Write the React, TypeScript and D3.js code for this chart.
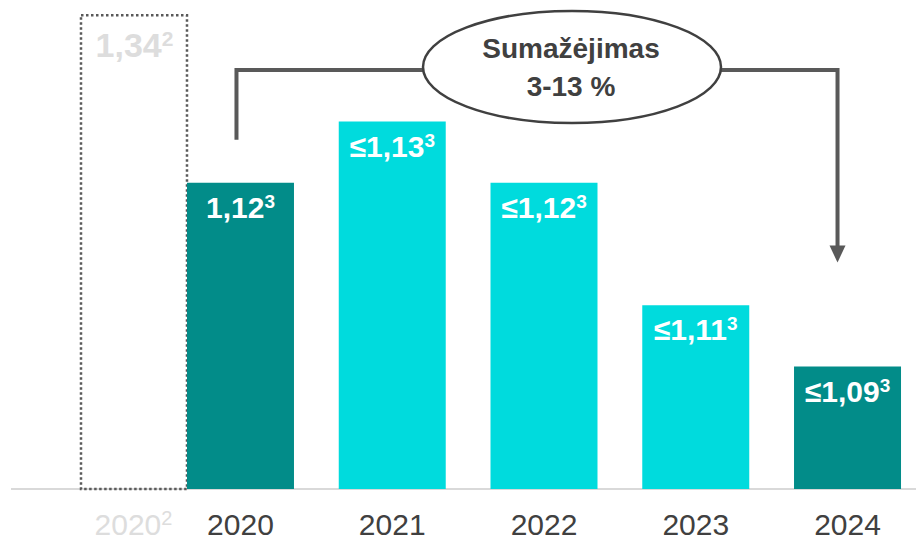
import React from "react";
import * as d3 from "d3";

// ---- data ----
const years = ["2020", "2021", "2022", "2023", "2024"];
const valueLabels = ["1,12", "≤1,13", "≤1,12", "≤1,11", "≤1,09"];
const footnotes = ["3", "3", "3", "3", "3"];
// displayed bar heights (relative units, as drawn in the source chart)
const barLevels = [5, 6, 5, 3, 2];
const highlightedYears = ["2020", "2024"];

const refYearLabel = "2020";
const refFootnote = "2";
const refValueLabel = "1,34";
const refLevel = 7.75;

const calloutLines = ["Sumažėjimas", "3-13 %"];

// ---- layout / style ----
const W = 916;
const H = 541;
const BASE = 489;
const FONT = "'Liberation Sans', Arial, Helvetica, sans-serif";
const TEAL = "#028C89";
const CYAN = "#00DBDD";
const DARK = "#404040";
const LINE = "#595959";
const LIGHT = "#DDDDDD";
const YEAR_Y = 535;

export default function App() {
  const x = d3
    .scaleBand<string>()
    .domain(years)
    .range([164.6, 923.4])
    .paddingInner(0.295)
    .paddingOuter(0.1475);
  const y = d3.scaleLinear().domain([0, 8]).range([BASE, -1]);
  const bw = x.bandwidth();

  const refX = (x(refYearLabel) as number) - bw;
  const refTop = y(refLevel);

  const leftX = (x("2020") as number) + bw / 2 - 4;
  const rightX = (x("2024") as number) + bw / 2 - 10;
  const topY = 70;
  const leftBottom = y(barLevels[0]) - 43;
  const arrowTip = y(barLevels[4]) - 104;

  return (
    <svg
      width={W}
      height={H}
      style={{ position: "absolute", left: 0, top: 0, background: "#fff" }}
      fontFamily={FONT}
    >
      {/* baseline */}
      <line x1={11} x2={W} y1={BASE} y2={BASE} stroke="#D9D9D9" strokeWidth={2} />

      {/* reference (dotted) bar */}
      <rect
        x={refX + 1}
        y={refTop + 1}
        width={bw - 1}
        height={BASE - refTop - 1}
        fill="none"
        stroke={LINE}
        strokeWidth={2.5}
        strokeDasharray="2.5 2.5"
      />
      <text
        x={refX + bw / 2 + 1}
        y={refTop + 43}
        textAnchor="middle"
        fontWeight="bold"
        fontSize={34}
        fill={LIGHT}
      >
        <tspan>{refValueLabel}</tspan>
        <tspan fontSize={21} dy={-11}>{refFootnote}</tspan>
      </text>
      <text x={refX + bw / 2} y={YEAR_Y} textAnchor="middle" fontSize={30} fill={LIGHT}>
        <tspan>{refYearLabel}</tspan>
        <tspan fontSize={20} dy={-10}>{refFootnote}</tspan>
      </text>

      {/* bars */}
      {years.map((yr, i) => {
        const bx = x(yr) as number;
        const top = y(barLevels[i]);
        return (
          <g key={yr}>
            <rect
              x={bx}
              y={top}
              width={bw}
              height={BASE - top}
              fill={highlightedYears.includes(yr) ? TEAL : CYAN}
            />
            <text
              x={bx + bw / 2}
              y={top + 35}
              textAnchor="middle"
              fontWeight="bold"
              fontSize={30}
              fill="#fff"
            >
              <tspan>{valueLabels[i]}</tspan>
              <tspan fontSize={19} dy={-10}>{footnotes[i]}</tspan>
            </text>
            <text x={bx + bw / 2} y={YEAR_Y} textAnchor="middle" fontSize={30} fill={DARK}>
              {yr}
            </text>
          </g>
        );
      })}

      {/* bracket with arrow */}
      <path
        d={`M${leftX},${leftBottom} V${topY} H${rightX} V${arrowTip - 16}`}
        fill="none"
        stroke={LINE}
        strokeWidth={4}
      />
      <path
        d={`M${rightX - 8},${arrowTip - 17} L${rightX + 8},${arrowTip - 17} L${rightX},${arrowTip} Z`}
        fill={LINE}
      />

      {/* callout ellipse */}
      <ellipse cx={572} cy={67} rx={149} ry={56} fill="#fff" stroke={DARK} strokeWidth={2.5} />
      {calloutLines.map((t, i) => (
        <text
          key={t}
          x={571}
          y={58 + i * 38}
          textAnchor="middle"
          fontWeight="bold"
          fontSize={28}
          fill={DARK}
        >
          {t}
        </text>
      ))}
    </svg>
  );
}
